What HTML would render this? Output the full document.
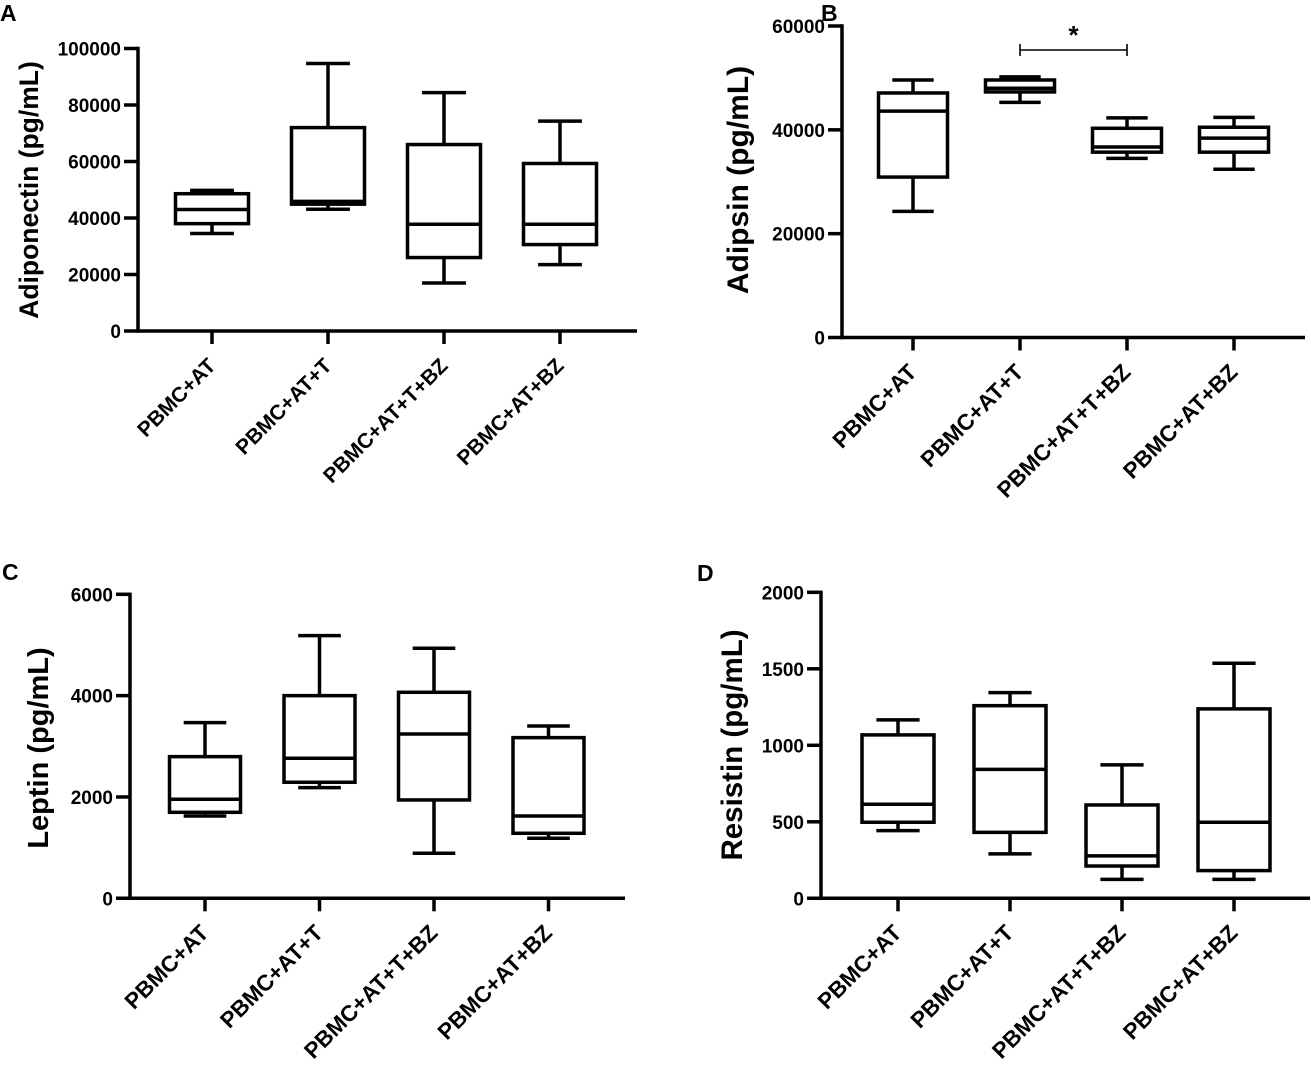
<!DOCTYPE html>
<html><head><meta charset="utf-8">
<style>
html,body{margin:0;padding:0;background:#fff;}
svg{display:block;font-family:"Liberation Sans",Arial,sans-serif;font-weight:bold;}
</style></head>
<body>
<svg id="fig" width="1311" height="1067" viewBox="0 0 1311 1067" xmlns="http://www.w3.org/2000/svg"></svg>
<script>
const categories = ["PBMC+AT","PBMC+AT+T","PBMC+AT+T+BZ","PBMC+AT+BZ"];
const adiponectinLow = [34500, 43100, 17000, 23500];
const adiponectinQ1 = [38000, 44900, 26000, 30600];
const adiponectinMed = [43000, 45900, 37800, 37800];
const adiponectinQ3 = [48600, 72000, 66000, 59300];
const adiponectinHigh = [49800, 94700, 84400, 74300];
const adiponectinTicks = [0, 20000, 40000, 60000, 80000, 100000];

const adipsinLow = [24300, 45300, 34500, 32400];
const adipsinQ1 = [30900, 47300, 35700, 35700];
const adipsinMed = [43600, 48000, 36700, 38400];
const adipsinQ3 = [47100, 49600, 40300, 40500];
const adipsinHigh = [49600, 50200, 42300, 42400];
const adipsinTicks = [0, 20000, 40000, 60000];

const leptinLow = [1625, 2184, 888, 1184];
const leptinQ1 = [1697, 2290, 1941, 1283];
const leptinMed = [1954, 2763, 3243, 1625];
const leptinQ3 = [2796, 4000, 4066, 3171];
const leptinHigh = [3467, 5184, 4934, 3401];
const leptinTicks = [0, 2000, 4000, 6000];

const resistinLow = [442, 290, 124, 124];
const resistinQ1 = [497, 431, 211, 181];
const resistinMed = [615, 843, 277, 497];
const resistinQ3 = [1068, 1259, 610, 1238];
const resistinHigh = [1166, 1344, 872, 1536];
const resistinTicks = [0, 500, 1000, 1500, 2000];

const NS = "http://www.w3.org/2000/svg";
const svg = document.getElementById('fig');
function mk(tag, attrs, parent){
  const e = document.createElementNS(NS, tag);
  for (const k in attrs) e.setAttribute(k, attrs[k]);
  (parent||svg).appendChild(e);
  return e;
}

function panel(p){
  const g = mk('g', {});
  
  
  const yMax = p.ticks[p.ticks.length-1];
  const ys = v => p.y0 - (v / yMax) * (p.y0 - p.yTop);
  const xs = i => p.x0 + i * p.step;
  const L = mk('text', {x:p.letterX, y:p.letterY, 'font-size':23, fill:'#000'}, g);
  L.textContent = p.letter;
  
  
  const ya = mk('line', {x1:p.axisX, y1:ys(yMax)-1.7, x2:p.axisX, y2:p.y0+1.7, stroke:'#000','stroke-width':3.5}, g);
  
  
  const xa = mk('line', {x1:p.axisX-14, y1:p.y0, x2:p.xEnd, y2:p.y0, stroke:'#000','stroke-width':3.5}, g);
  
  
  p.ticks.forEach(t => {
    if (t !== 0) {
      const tl = mk('line', {x1:p.axisX-14, y1:ys(t), x2:p.axisX, y2:ys(t), stroke:'#000','stroke-width':3.5}, g);
      
      
    }
    const tt = mk('text', {x:p.axisX-17, y:ys(t)+7, 'text-anchor':'end','font-size':19, fill:'#000'}, g);
    tt.textContent = String(t);
    
    
  });
  const yt = mk('text', {x:p.titleX, y:p.titleY, 'text-anchor':'middle','font-size':p.titleSize, fill:'#000', transform:`rotate(-90 ${p.titleX} ${p.titleY})`}, g);
  yt.textContent = p.title;
  
  
  const hw = p.boxW / 2, cw = p.boxW * 0.3;
  categories.forEach((c, i) => {
    const x = xs(i);
    const tk = mk('line', {x1:x, y1:p.y0, x2:x, y2:p.y0+13, stroke:'#000','stroke-width':3.5}, g);
    
    
    const lx = x + 5, ly = p.y0 + 36;
    const ct = mk('text', {x:lx, y:ly, 'text-anchor':'end','font-size':p.catSize, fill:'#000', transform:`rotate(-45 ${lx} ${ly})`}, g);
    ct.textContent = c;
    
    
    const bg = mk('g', {stroke:'#000','stroke-width':3.5, fill:'none'}, g);
    
    
    const lo = ys(p.low[i]), q1 = ys(p.q1[i]), md = ys(p.med[i]), q3 = ys(p.q3[i]), hi = ys(p.high[i]);
    mk('line', {x1:x, y1:hi, x2:x, y2:q3}, bg);
    mk('line', {x1:x, y1:q1, x2:x, y2:lo}, bg);
    mk('line', {x1:x-cw, y1:hi, x2:x+cw, y2:hi}, bg);
    mk('line', {x1:x-cw, y1:lo, x2:x+cw, y2:lo}, bg);
    mk('rect', {x:x-hw, y:q3, width:p.boxW, height:Math.max(0,q1-q3), fill:'#fff'}, bg);
    mk('line', {x1:x-hw, y1:md, x2:x+hw, y2:md}, bg);
  });
  if (p.sig) {
    const sg = mk('g', {stroke:'#000','stroke-width':1.6}, g);
    
    
    const a = xs(p.sig[0]), b = xs(p.sig[1]), yy = p.sigY;
    mk('line', {x1:a, y1:yy, x2:b, y2:yy}, sg);
    mk('line', {x1:a, y1:yy-6, x2:a, y2:yy+6}, sg);
    mk('line', {x1:b, y1:yy-6, x2:b, y2:yy+6}, sg);
    const st = mk('text', {x:(a+b)/2, y:yy-6, 'text-anchor':'middle','font-size':26, fill:'#000'}, g);
    st.textContent = '*';
    
    
  }
}

panel({key:'a', letter:'A', letterX:0, letterY:21, axisX:138, y0:331, yTop:48.5, xEnd:637, x0:212, step:116, boxW:73,
  title:'Adiponectin (pg/mL)', titleSize:26.5, titleX:38, titleY:190, catSize:21, ticks:adiponectinTicks,
  low:adiponectinLow, q1:adiponectinQ1, med:adiponectinMed, q3:adiponectinQ3, high:adiponectinHigh});
panel({key:'b', letter:'B', letterX:821, letterY:21, axisX:842, y0:337.5, yTop:26, xEnd:1305, x0:913, step:107, boxW:69,
  title:'Adipsin (pg/mL)', titleSize:30, titleX:748, titleY:180, catSize:22.5, ticks:adipsinTicks,
  low:adipsinLow, q1:adipsinQ1, med:adipsinMed, q3:adipsinQ3, high:adipsinHigh, sig:[1,2], sigY:50});
panel({key:'c', letter:'C', letterX:2, letterY:580, axisX:130, y0:898.3, yTop:594.3, xEnd:625, x0:205, step:114.5, boxW:71,
  title:'Leptin (pg/mL)', titleSize:29, titleX:48, titleY:748, catSize:22.5, ticks:leptinTicks,
  low:leptinLow, q1:leptinQ1, med:leptinMed, q3:leptinQ3, high:leptinHigh});
panel({key:'d', letter:'D', letterX:697, letterY:581, axisX:821, y0:898.3, yTop:592.3, xEnd:1310, x0:898, step:112, boxW:72,
  title:'Resistin (pg/mL)', titleSize:29.5, titleX:742, titleY:745, catSize:22.5, ticks:resistinTicks,
  low:resistinLow, q1:resistinQ1, med:resistinMed, q3:resistinQ3, high:resistinHigh});
</script>
</body></html>
